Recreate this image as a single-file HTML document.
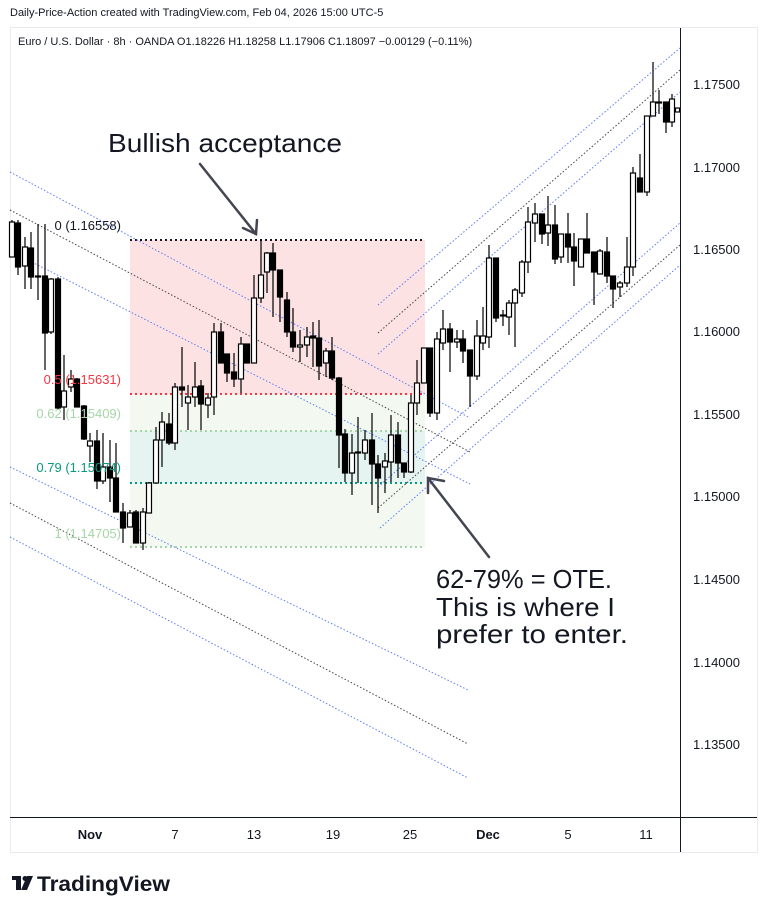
<!DOCTYPE html>
<html><head><meta charset="utf-8"><style>
html,body{margin:0;padding:0;background:#fff;}
body{width:767px;height:913px;overflow:hidden;font-family:"Liberation Sans",sans-serif;}
svg text{font-family:"Liberation Sans",sans-serif;}
</style></head><body>
<svg width="767" height="913" viewBox="0 0 767 913" xmlns="http://www.w3.org/2000/svg">
<rect width="767" height="913" fill="#fff"/>
<text x="10" y="16" font-size="11" fill="#131722">Daily-Price-Action created with TradingView.com, Feb 04, 2026 15:00 UTC-5</text>
<rect x="10.5" y="27.5" width="747" height="825" fill="#fff" stroke="#e9ebef"/>
<text x="18" y="45" font-size="11" fill="#131722">Euro / U.S. Dollar · 8h · OANDA  O1.18226  H1.18258  L1.17906  C1.18097  −0.00129 (−0.11%)</text>

<!-- fib zones -->
<rect x="130" y="240" width="295" height="154" fill="#fde2e4"/>
<rect x="130" y="394" width="295" height="37" fill="#f3f9f1"/>
<rect x="130" y="431" width="295" height="52" fill="#e6f4f1"/>
<rect x="130" y="483" width="295" height="64" fill="#f3f9f1"/>
<g stroke-width="2" stroke-dasharray="2 3">
<line x1="130" y1="240" x2="425" y2="240" stroke="#131722"/>
<line x1="130" y1="394" x2="425" y2="394" stroke="#f23645"/>
<line x1="130" y1="431" x2="425" y2="431" stroke="#a5d6a7"/>
<line x1="130" y1="483" x2="425" y2="483" stroke="#089981"/>
<line x1="130" y1="547" x2="425" y2="547" stroke="#a5d6a7"/>
</g>

<!-- channels -->
<g stroke-width="1" stroke-dasharray="1.5 2" fill="none">
<line x1="10" y1="172" x2="470" y2="418" stroke="#5b7cf5"/>
<line x1="10" y1="210" x2="470" y2="452" stroke="#444"/>
<line x1="10" y1="251" x2="470" y2="484" stroke="#5b7cf5"/>
<line x1="10" y1="467" x2="468" y2="690" stroke="#5b7cf5"/>
<line x1="10" y1="503" x2="468" y2="744" stroke="#444"/>
<line x1="10" y1="537" x2="468" y2="778" stroke="#5b7cf5"/>
<line x1="378" y1="305" x2="680" y2="48" stroke="#5b7cf5"/>
<line x1="378" y1="333" x2="680" y2="70" stroke="#444"/>
<line x1="378" y1="354" x2="680" y2="92" stroke="#5b7cf5"/>
<line x1="378" y1="487" x2="680" y2="223" stroke="#5b7cf5"/>
<line x1="378" y1="508" x2="680" y2="245" stroke="#444"/>
<line x1="380" y1="528" x2="680" y2="265" stroke="#5b7cf5"/>
</g>

<!-- wicks -->
<path stroke="#000" stroke-width="1.2" fill="none" d="M12 220V257M18 220V275M25 237V289M31 232V289M38 224V300M45 224V370M51 278V334M58 277V410M64 355V420M71 370V392M77 378V407M84 405V440M90 433V462M97 430V489M103 433V484M110 440V502M116 443V512M123 503V543M130 510V527M136 510V543M143 508V550M149 482V513M156 427V483M162 412V467M169 413V445M175 383V450M182 347V407M188 385V430M195 362V407M201 380V430M208 393V418M214 323V415M221 323V363M227 354V382M234 353V387M241 337V393M247 344V363M254 275V363M261 239V303M267 252V293M273 243V317M280 270V322M287 292V337M293 308V352M300 330V362M307 327V357M313 322V367M319 320V380M326 348V377M332 337V380M339 377V468M345 429V482M352 434V495M358 417V483M365 430V460M372 413V505M378 455V513M385 453V493M391 415V482M398 422V478M404 463V478M411 395V473M417 360V415M424 348V383M430 348V417M437 332V420M443 310V350M450 323V372M457 330V348M463 330V363M470 350V407M477 320V380M483 307V350M489 245V348M496 258V322M503 310V326M509 300V335M515 288V347M522 260V297M528 207V273M535 203V242M542 214V244M548 196V246M555 205V264M561 234V263M568 213V263M574 233V286M581 239V267M587 213V253M594 252V305M600 249V274M607 237V283M613 276V308M620 281V297M627 237V287M633 167V276M640 154V192M647 116V196M653 62V116M659 90V114M666 102V133M672 94V127"/>
<!-- white bodies -->
<g fill="#fff" stroke="#000" stroke-width="1.2">
<rect x="9.5" y="222" width="5" height="35"/><rect x="22.5" y="247" width="5" height="19"/><rect x="48.5" y="279" width="5" height="53"/><rect x="61.5" y="391" width="5" height="16"/><rect x="68.5" y="379" width="5" height="8"/><rect x="87.5" y="441" width="5" height="5"/><rect x="100.5" y="467" width="5" height="14"/><rect x="127.5" y="513" width="5" height="14"/><rect x="140.5" y="512" width="5" height="31"/><rect x="146.5" y="483" width="5" height="30"/><rect x="153.5" y="440" width="5" height="43"/><rect x="159.5" y="422" width="5" height="18"/><rect x="172.5" y="387" width="5" height="56"/><rect x="185.5" y="397" width="5" height="6"/><rect x="192.5" y="387" width="5" height="10"/><rect x="205.5" y="398" width="5" height="7"/><rect x="211.5" y="332" width="5" height="65"/><rect x="238.5" y="344" width="5" height="35"/><rect x="251.5" y="298" width="5" height="65"/><rect x="258.5" y="275" width="5" height="23"/><rect x="264.5" y="253" width="5" height="19"/><rect x="297.5" y="345" width="5" height="2"/><rect x="304.5" y="337" width="5" height="8"/><rect x="323.5" y="351" width="5" height="12"/><rect x="349.5" y="453" width="5" height="20"/><rect x="355.5" y="452" width="5" height="1"/><rect x="362.5" y="440" width="5" height="13"/><rect x="382.5" y="461" width="5" height="6"/><rect x="388.5" y="435" width="5" height="27"/><rect x="408.5" y="403" width="5" height="69"/><rect x="414.5" y="383" width="5" height="20"/><rect x="421.5" y="348" width="5" height="35"/><rect x="434.5" y="339" width="5" height="74"/><rect x="440.5" y="329" width="5" height="14"/><rect x="454.5" y="339" width="5" height="3"/><rect x="474.5" y="336" width="5" height="40"/><rect x="480.5" y="336" width="5" height="7"/><rect x="486.5" y="258" width="5" height="79"/><rect x="500.5" y="315" width="5" height="1"/><rect x="506.5" y="303" width="5" height="14"/><rect x="512.5" y="290" width="5" height="13"/><rect x="519.5" y="262" width="5" height="31"/><rect x="525.5" y="222" width="5" height="40"/><rect x="532.5" y="214" width="5" height="9"/><rect x="545.5" y="225" width="5" height="8"/><rect x="558.5" y="234" width="5" height="23"/><rect x="578.5" y="239" width="5" height="28"/><rect x="597.5" y="251" width="5" height="23"/><rect x="617.5" y="283" width="5" height="4"/><rect x="624.5" y="267" width="5" height="16"/><rect x="630.5" y="173" width="5" height="94"/><rect x="644.5" y="116" width="5" height="76"/><rect x="650.5" y="102" width="5" height="14"/><rect x="656.5" y="102" width="5" height="1"/><rect x="669.5" y="99" width="5" height="23"/><rect x="675.5" y="108" width="4" height="4"/>
</g>
<!-- black bodies -->
<g fill="#000" stroke="#000" stroke-width="1.2">
<rect x="15.5" y="223" width="5" height="44"/><rect x="28.5" y="248" width="5" height="29"/><rect x="35.5" y="276" width="5" height="1"/><rect x="42.5" y="276" width="5" height="57"/><rect x="55.5" y="279" width="5" height="129"/><rect x="74.5" y="379" width="5" height="28"/><rect x="81.5" y="406" width="5" height="33"/><rect x="94.5" y="441" width="5" height="40"/><rect x="107.5" y="467" width="5" height="11"/><rect x="113.5" y="478" width="5" height="34"/><rect x="120.5" y="512" width="5" height="16"/><rect x="133.5" y="512" width="5" height="31"/><rect x="166.5" y="424" width="5" height="19"/><rect x="179.5" y="387" width="5" height="3"/><rect x="198.5" y="386" width="5" height="18"/><rect x="218.5" y="332" width="5" height="31"/><rect x="224.5" y="354" width="5" height="19"/><rect x="231.5" y="372" width="5" height="7"/><rect x="244.5" y="344" width="5" height="19"/><rect x="270.5" y="253" width="5" height="17"/><rect x="277.5" y="270" width="5" height="27"/><rect x="284.5" y="300" width="5" height="32"/><rect x="290.5" y="332" width="5" height="15"/><rect x="310.5" y="336" width="5" height="2"/><rect x="316.5" y="338" width="5" height="28"/><rect x="329.5" y="351" width="5" height="27"/><rect x="336.5" y="378" width="5" height="57"/><rect x="342.5" y="434" width="5" height="39"/><rect x="369.5" y="440" width="5" height="24"/><rect x="375.5" y="464" width="5" height="14"/><rect x="395.5" y="435" width="5" height="28"/><rect x="401.5" y="463" width="5" height="9"/><rect x="427.5" y="348" width="5" height="65"/><rect x="447.5" y="329" width="5" height="13"/><rect x="460.5" y="339" width="5" height="12"/><rect x="467.5" y="350" width="5" height="26"/><rect x="493.5" y="258" width="5" height="60"/><rect x="539.5" y="214" width="5" height="20"/><rect x="552.5" y="225" width="5" height="34"/><rect x="565.5" y="234" width="5" height="13"/><rect x="571.5" y="247" width="5" height="14"/><rect x="584.5" y="239" width="5" height="14"/><rect x="591.5" y="252" width="5" height="20"/><rect x="604.5" y="252" width="5" height="24"/><rect x="610.5" y="276" width="5" height="13"/><rect x="637.5" y="178" width="5" height="14"/><rect x="663.5" y="102" width="5" height="20"/>
</g>

<!-- fib labels on top -->
<g font-size="13" text-anchor="end">
<text x="121" y="230" fill="#131722">0 (1.16558)</text>
<text x="121" y="384" fill="#f23645">0.5 (1.15631)</text>
<text x="121" y="418" fill="#a5d6a7">0.62 (1.15409)</text>
<text x="121" y="472" fill="#089981">0.79 (1.15074)</text>
<text x="121" y="538" fill="#a5d6a7">1 (1.14705)</text>
</g>

<!-- annotations -->
<text x="108" y="152" font-size="26" fill="#131722" textLength="234" lengthAdjust="spacingAndGlyphs">Bullish acceptance</text>
<g stroke="#434651" stroke-width="2.5" fill="none" stroke-linecap="round">
<line x1="200" y1="164" x2="256" y2="234"/>
<polyline points="243,228 256,234 257,220"/>
<line x1="489" y1="557" x2="428" y2="478"/>
<polyline points="428,493 428,478 444,481"/>
</g>
<g font-size="26" fill="#131722">
<text x="436" y="588" textLength="176" lengthAdjust="spacingAndGlyphs">62-79% = OTE.</text>
<text x="436" y="616" textLength="179" lengthAdjust="spacingAndGlyphs">This is where I</text>
<text x="436" y="643" textLength="192" lengthAdjust="spacingAndGlyphs">prefer to enter.</text>
</g>

<!-- axes -->
<line x1="680.5" y1="28" x2="680.5" y2="852" stroke="#131722" stroke-width="1"/>
<line x1="10" y1="817.5" x2="757" y2="817.5" stroke="#131722" stroke-width="1"/>
<g font-size="13" fill="#131722">
<text x="693" y="89">1.17500</text>
<text x="693" y="172">1.17000</text>
<text x="693" y="254">1.16500</text>
<text x="693" y="336">1.16000</text>
<text x="693" y="419">1.15500</text>
<text x="693" y="501">1.15000</text>
<text x="693" y="584">1.14500</text>
<text x="693" y="667">1.14000</text>
<text x="693" y="749">1.13500</text>
</g>
<g font-size="13" fill="#131722" text-anchor="middle">
<text x="90" y="839" font-weight="bold">Nov</text>
<text x="175" y="839">7</text>
<text x="254" y="839">13</text>
<text x="333" y="839">19</text>
<text x="410" y="839">25</text>
<text x="488" y="839" font-weight="bold">Dec</text>
<text x="568" y="839">5</text>
<text x="646" y="839">11</text>
</g>

<!-- logo -->
<g fill="#131722">
<rect x="12" y="876" width="9" height="4"/><rect x="16" y="876" width="5" height="14"/>
<circle cx="25" cy="878.5" r="2.5"/>
<polygon points="27,876 33,876 27,890 21,890"/>
<text x="37" y="891" font-size="21" font-weight="bold" textLength="133" lengthAdjust="spacingAndGlyphs">TradingView</text>
</g>
</svg>
</body></html>
